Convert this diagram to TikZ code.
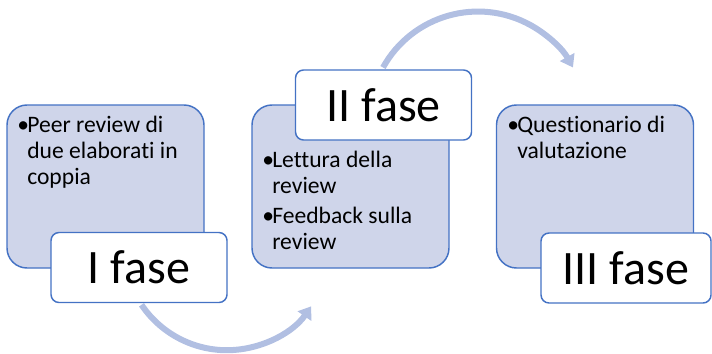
\documentclass[tikz,border=0pt]{standalone}
\usepackage{fontspec}
\setmainfont{Carlito}[Ligatures=NoCommon]
\usetikzlibrary{positioning, arrows.meta}
\definecolor{bluex}{HTML}{4472C4}
\definecolor{fillx}{HTML}{CFD5EA}
\definecolor{arcx}{HTML}{B1BFE2}

\begin{document}
\begin{tikzpicture}[
  x=0.75pt, y=-0.75pt,
  box/.style={rectangle, draw=bluex, line width=1.1pt, fill=fillx, minimum width=147.75pt, minimum height=122.25pt, rounded corners=15pt, inner sep=0pt},
  phase/.style={rectangle, draw=bluex, line width=1.1pt, fill=white, minimum width=132pt, minimum height=52.5pt, rounded corners=6pt, inner sep=0pt, font=\fontsize{36}{40}\selectfont},
  txt/.style={anchor=base west, inner sep=0pt, font=\fontsize{17.7}{19.5}\selectfont},
  arr/.style={-{Triangle[width=12pt, length=9pt]}, line width=4.5pt, draw=arcx},
]
\useasboundingbox (0,0) rectangle (712,353);

% phase boxes
\node[box] (b1) at (105.5,186.5) {};
\node[box] (b2) at (350.5,186.5) {};
\node[box] (b3) at (595,186.5) {};

% bullet texts
\node[txt] (t1) at (17,132) {\begin{tabular}[t]{@{}p{7.5pt}@{}l@{}}
  •&Peer review di\\ &due elaborati in\\ &coppia\end{tabular}};
\node[txt] (t2) at (262,167) {\begin{tabular}[t]{@{}p{7.5pt}@{}l@{}}
  •&Lettura della\\ &review\\[3pt] •&Feedback sulla\\ &review\end{tabular}};
\node[txt] (t3) at (507,132) {\begin{tabular}[t]{@{}p{7.5pt}@{}l@{}}
  •&Questionario di\\ &valutazione\end{tabular}};

% phase labels
\node[phase] (p1) at (139,267.5) {I fase};
\node[phase] (p2) at (383.5,105) {II fase};
\node[phase, minimum width=127.5pt] (p3) at (626,268) {III fase};

% curved arrows
\coordinate (s1) at (141.5,304.8);
\coordinate (s2) at (383,67.5);
\draw[arr] (s1) arc[start angle=214, end angle=325, radius=77.25pt];
\draw[arr] (s2) arc[start angle=151, end angle=29, radius=81.45pt];
\end{tikzpicture}
\end{document}
